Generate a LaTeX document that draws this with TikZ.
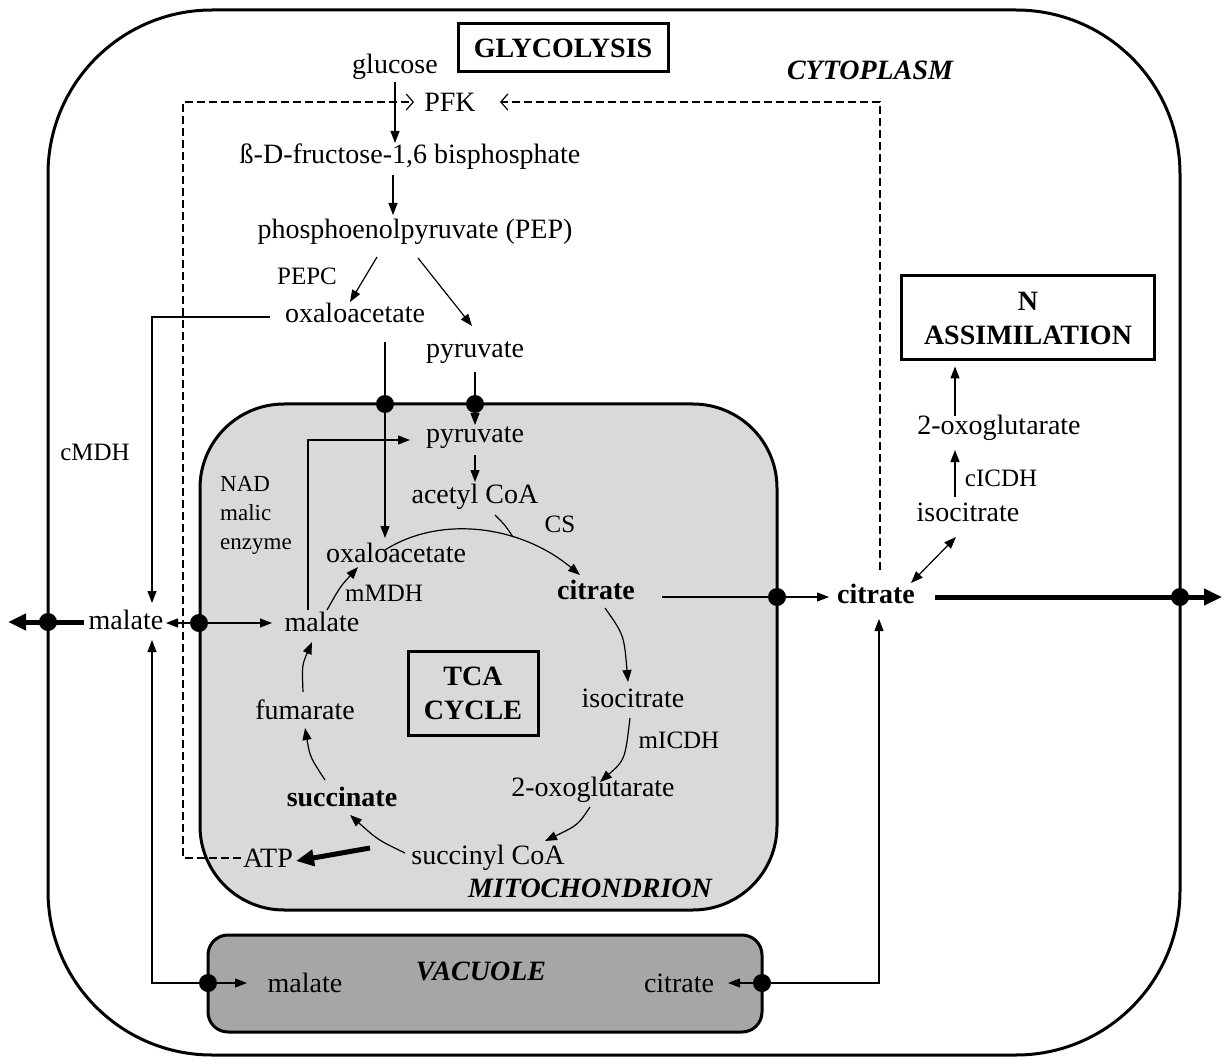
\documentclass[tikz,border=0pt]{standalone}
\usepackage{fontspec}
\setmainfont{Liberation Serif}
\usetikzlibrary{arrows.meta,calc}
\definecolor{mitofill}{HTML}{D9D9D9}
\definecolor{vacfill}{HTML}{A6A6A6}
\begin{document}
\begin{tikzpicture}[x=0.5pt,y=-0.5pt,
  txt/.style={font=\fontsize{14}{16}\selectfont, inner sep=1pt},
  btxt/.style={font=\fontsize{14}{16}\selectfont\bfseries, inner sep=1pt},
  bitxt/.style={font=\fontsize{14}{16}\selectfont\bfseries\itshape, inner sep=1pt},
  enz/.style={font=\fontsize{12.5}{14}\selectfont, inner sep=1pt},
  arr/.style={line width=0.6pt, -{Triangle[length=6pt,width=4.5pt]}},
  darr/.style={line width=0.6pt, {Triangle[length=6pt,width=4.5pt]}-{Triangle[length=6pt,width=4.5pt]}},
  thickarr/.style={line width=2.5pt, -{Triangle[length=9pt,width=8pt]}},
  dashline/.style={line width=0.6pt, dash pattern=on 4pt off 2pt, -{Straight Barb[length=3.5pt,width=8pt]}},
  dotc/.style={circle, fill=black, inner sep=0pt, minimum size=9pt},
  titlebox/.style={draw, line width=1.5pt, font=\fontsize{14}{17}\selectfont\bfseries, align=center, inner sep=0pt}
]
\useasboundingbox (0,0) rectangle (1227,1059);

% compartments
\draw[line width=1.5pt, rounded corners=82pt] (48,10) rectangle (1180,1055);
\draw[line width=1.5pt, fill=mitofill, rounded corners=42pt] (200,404) rectangle (777,910);
\draw[line width=1.5pt, fill=vacfill, rounded corners=10pt] (208,935) rectangle (762,1032);

% nodes
\node[titlebox, minimum width=105pt, minimum height=24pt] (glyc) at (563,48) {GLYCOLYSIS};
\node[bitxt] (cyto) at (870,70) {CYTOPLASM};
\node[txt] (glucose) at (395,67) {glucose};
\node[txt] (pfk) at (450,102) {PFK};
\node[txt] (fbp) at (410,157) {ß-D-fructose-1,6 bisphosphate};
\node[txt] (pep) at (415,232) {phosphoenolpyruvate (PEP)};
\node[enz] (pepc) at (307,276) {PEPC};
\node[txt] (oaac) at (355,313) {oxaloacetate};
\node[txt] (pyrc) at (475,353) {pyruvate};
\node[enz] (cmdh) at (95,452) {cMDH};
\node[txt] (malc) at (126,620) {malate};
\node[txt] (pyrm) at (475,438) {pyruvate};
\node[txt] (acoa) at (475,497) {acetyl CoA};
\node[enz] (cs) at (560,524) {CS};
\node[font=\fontsize{11.5}{14.5}\selectfont, align=left, inner sep=1pt] (nad) at (256,515) {NAD\\malic\\enzyme};
\node[txt] (oaam) at (396,553) {oxaloacetate};
\node[enz] (mmdh) at (384,593) {mMDH};
\node[txt] (malm) at (322,622) {malate};
\node[btxt] (citm) at (596,590) {citrate};
\node[txt] (isom) at (633,698) {isocitrate};
\node[enz] (micdh) at (679,740) {mICDH};
\node[txt] (oxom) at (593,790) {2-oxoglutarate};
\node[txt] (sucoa) at (488,858) {succinyl CoA};
\node[btxt] (succ) at (342,797) {succinate};
\node[txt] (fum) at (305,710) {fumarate};
\node[titlebox, minimum width=65pt, minimum height=42pt] (tca) at (473,693) {TCA\\CYCLE};
\node[txt] (atp) at (268,858) {ATP};
\node[bitxt] (mitol) at (590,888) {MITOCHONDRION};
\node[btxt] (citc) at (876,594) {citrate};
\node[txt] (isoc) at (968,512) {isocitrate};
\node[enz] (cicdh) at (1001,478) {cICDH};
\node[txt] (oxoc) at (999,428) {2-oxoglutarate};
\node[titlebox, minimum width=126.5pt, minimum height=42pt] (nass) at (1028,318) {N\\ASSIMILATION};
\node[bitxt] (vacl) at (481,971) {VACUOLE};
\node[txt] (malv) at (305,983) {malate};
\node[txt] (citv) at (679,983) {citrate};

% glycolysis
\draw[arr] ($(glucose)+(0,15)$) -- ($(fbp)+(-15,-14)$);
\draw[arr] ($(fbp)+(-17,18)$) -- ($(pep)+(-22,-17)$);
\draw[arr] ($(pep)+(-38,25)$) -- ($(oaac)+(-5,-11)$);
\draw[arr] ($(pep)+(3,26)$) -- ($(pyrc)+(-3,-27)$);
\draw[arr] ($(oaac)+(-85,4)$) -| ($(malc)+(26,-17)$);
\draw[arr] ($(oaac)+(30,29)$) -- ($(oaam)+(-11,-15)$);
\draw[arr] ($(pyrc)+(0,19)$) -- ($(pyrm)+(0,-13)$);
\draw[arr] ($(pyrm)+(0,17)$) -- ($(acoa)+(0,-15)$);
\draw[arr] ($(malm)+(-14,-12)$) |- ($(pyrm)+(-65,2)$);

% TCA cycle
\draw[arr] ($(oaam)+(-11,-3)$) .. controls ($(oaam)+(44,-38)$) and ($(citm)+(-76,-65)$) .. ($(citm)+(-16,-15)$);
\draw[line width=0.6pt] ($(acoa)+(20,18)$) .. controls ($(acoa)+(30,28)$) .. ($(acoa)+(38,40)$);
\draw[arr] ($(citm)+(9,18)$) .. controls ($(citm)+(28,45)$) .. ($(isom)+(-5,-16)$);
\draw[arr] ($(isom)+(-3,20)$) .. controls ($(isom)+(-8,62)$) .. ($(oxom)+(7,-8)$);
\draw[arr] ($(oxom)+(-3,17)$) .. controls ($(oxom)+(-15,35)$) .. ($(sucoa)+(57,-17)$);
\draw[arr] ($(sucoa)+(-83,-5)$) .. controls ($(sucoa)+(-110,-18)$) .. ($(succ)+(8,18)$);
\draw[arr] ($(succ)+(-17,-17)$) .. controls ($(succ)+(-32,-40)$) .. ($(fum)+(0,18)$);
\draw[arr] ($(fum)+(-2,-18)$) .. controls ($(fum)+(-3,-45)$) .. ($(malm)+(-10,20)$);
\draw[arr] ($(malm)+(5,-12)$) .. controls ($(malm)+(18,-35)$) .. ($(oaam)+(-38,14)$);
\draw[thickarr] ($(sucoa)+(-118,-10)$) -- ($(atp)+(28,3)$);

% feedback dashed
\draw[dashline] (atp.west) -| ($(pfk)+(-267,0)$) -- ($(pfk)+(-36,0)$);
\draw[dashline] ($(citc)+(4,-24)$) |- ($(pfk)+(50,0)$);

% malate transport
\node[dotc] (d3) at (199,623) {};
\draw[arr] (d3.center) -- ($(malm)+(-50,1)$);
\draw[arr] (d3.center) -- ($(malc)+(40,3)$);
\draw[thickarr] ($(malc)+(-42,2)$) -- ($(malc)+(-118,2)$);
\node[dotc] (d7) at (208,983) {};
\draw[arr] (d7.center) -| ($(malc)+(26,20)$);
\draw[arr] (d7.center) -- ($(malv)+(-58,0)$);

% citrate transport
\draw[arr] ($(citm)+(66,7)$) -- ($(citc)+(-47,3)$);
\draw[thickarr] ($(citc)+(59,3)$) -- ($(citc)+(346,3)$);
\draw[darr] ($(citc)+(35,-11)$) -- ($(isoc)+(-12,25)$);
\draw[arr] ($(isoc)+(-13,-15)$) -- ($(oxoc)+(-44,22)$);
\draw[arr] ($(oxoc)+(-44,-12)$) -- ($(nass.south)+(-73,5)$);
\node[dotc] (d8) at (762,983) {};
\draw[arr] (d8.center) -| ($(citc)+(3,25)$);
\draw[arr] (d8.center) -- ($(citv)+(49,0)$);

% dots on membranes
\node[dotc] (d1) at (385,404) {};
\node[dotc] (d2) at (475,404) {};
\node[dotc] (d4) at (777,597) {};
\node[dotc] (d5) at (48,622) {};
\node[dotc] (d6) at (1180,597) {};
\end{tikzpicture}
\end{document}
